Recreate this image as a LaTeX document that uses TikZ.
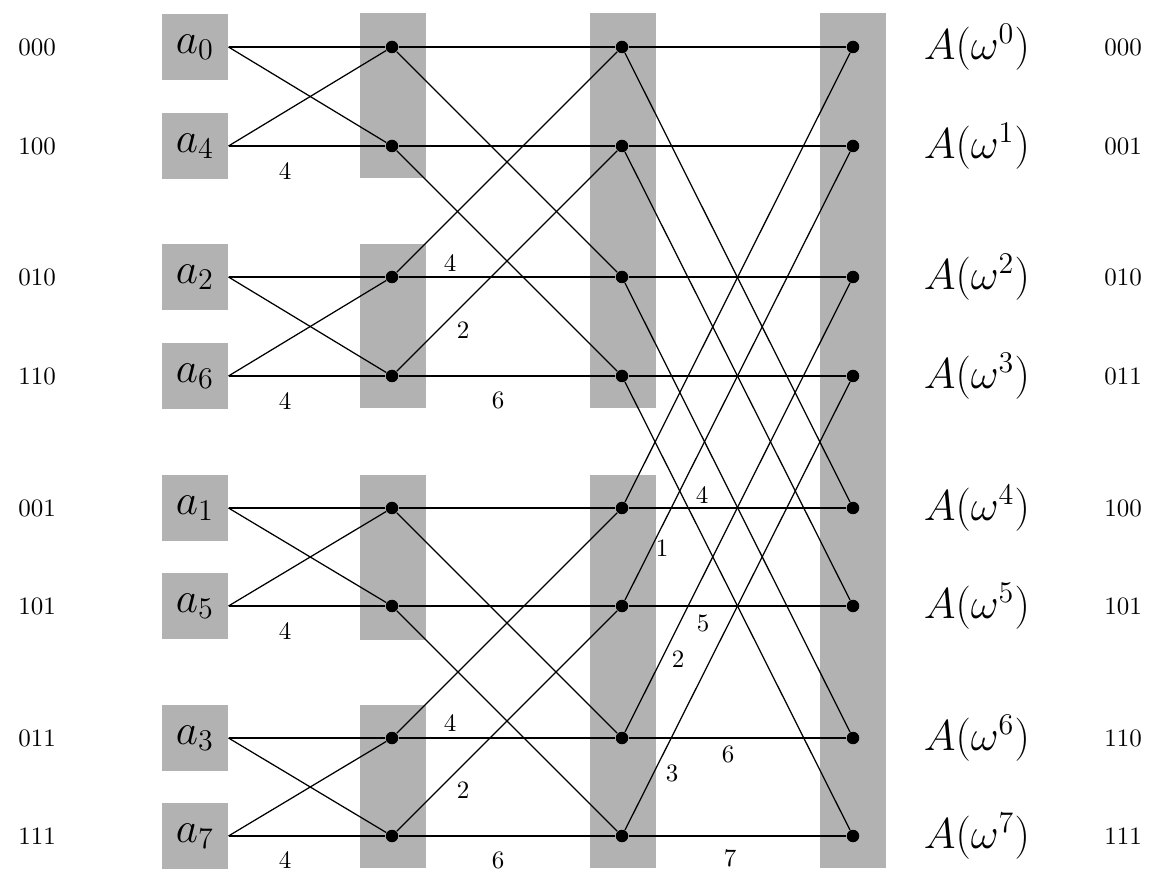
\documentclass[tikz,border=0pt]{standalone}
\usepackage{tikz}
\usetikzlibrary{positioning}

\begin{document}
\begin{tikzpicture}[x=0.4pt, y=-0.4pt,
    shade/.style={fill=black!30, draw=none},
    dot/.style={circle, fill=black, inner sep=0pt, minimum size=5pt},
    coef/.style={font=\normalsize},
    bits/.style={font=\normalsize},
    wire/.style={draw=black, line width=0.5pt}
]
    \useasboundingbox (0,0) rectangle (1169,886);

    % gray bands
    \foreach \t/\b in {13/178, 244/408, 475/640, 705/868}
        \fill[shade] (360,\t) rectangle (426,\b);
    \foreach \t/\b in {13/408, 475/868}
        \fill[shade] (590,\t) rectangle (656,\b);
    \fill[shade] (820,13) rectangle (886,868);

    % rows: y / input index / input bits / output bits
    \foreach \r/\y/\k/\bi/\bo in {0/47/0/000/000, 1/146/4/100/001, 2/277/2/010/010, 3/376/6/110/011,
                                  4/508/1/001/100, 5/606/5/101/101, 6/738/3/011/110, 7/836/7/111/111} {
        \node[bits] (lb\r) at (37,\y) {\bi};
        \node[shade, minimum width=26.4pt, minimum height=26.4pt, inner sep=0pt, font=\LARGE] (in\r) at (195,\y) {$a_{\k}$};
        \node[dot] (s1\r) at (392,\y) {};
        \node[dot] (s2\r) at (622,\y) {};
        \node[dot] (s3\r) at (853,\y) {};
        \node[font=\LARGE, anchor=west] (out\r) at (915,\y) {$A(\omega^{\r})$};
        \node[bits] (rb\r) at (1123,\y) {\bo};
    }

    % stage 1
    \foreach \a/\b in {0/1, 2/3, 4/5, 6/7} {
        \draw[wire] (in\a.east) -- (s1\a); \draw[wire] (in\a.east) -- (s1\b);
        \draw[wire] (in\b.east) -- (s1\b); \draw[wire] (in\b.east) -- (s1\a);
    }
    % stage 2
    \foreach \a/\b in {0/2, 1/3, 4/6, 5/7} {
        \draw[wire] (s1\a) -- (s2\a); \draw[wire] (s1\a) -- (s2\b);
        \draw[wire] (s1\b) -- (s2\b); \draw[wire] (s1\b) -- (s2\a);
    }
    % stage 3
    \foreach \a/\b in {0/4, 1/5, 2/6, 3/7} {
        \draw[wire] (s2\a) -- (s3\a); \draw[wire] (s2\a) -- (s3\b);
        \draw[wire] (s2\b) -- (s3\b); \draw[wire] (s2\b) -- (s3\a);
    }

    % twiddle labels
    \foreach \x/\y/\t in {285/171/4, 285/401/4, 285/631/4, 285/860/4,
                          450/263/4, 463/330/2, 498/400/6, 450/723/4, 463/790/2, 498/860/6,
                          702/495/4, 662/548/1, 703/623/5, 678/659/2, 728/754/6, 672/773/3, 730/858/7}
        \node[coef] at (\x,\y) {\t};
\end{tikzpicture}
\end{document}
